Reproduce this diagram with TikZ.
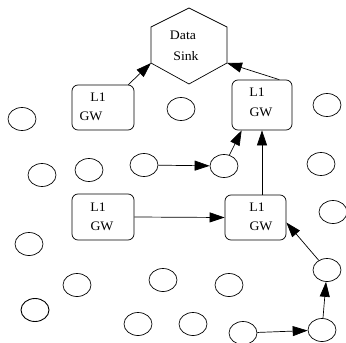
\documentclass[tikz,border=0pt]{standalone}
\usepackage{fontspec}
\setmainfont{Liberation Serif}[FakeStretch=1.06]
\usetikzlibrary{shapes.geometric,arrows.meta}
\tikzset{
  sensor/.style={draw,ellipse,line width=0.7pt,minimum width=28pt,minimum height=23pt,inner sep=0pt},
  gwbox/.style={draw,rectangle,rounded corners=6pt,line width=0.7pt,inner sep=0pt},
  lbl/.style={inner sep=0pt,font=\fontsize{13}{15}\selectfont},
  arr/.style={line width=0.7pt,-{Triangle[length=15pt,width=10pt]}},
}
\begin{document}
\begin{tikzpicture}[x=1pt,y=-1pt]
\useasboundingbox (0,0) rectangle (346,343);
% data sink hexagon
\coordinate (ht) at (189,8);
\coordinate (hur) at (227,27);
\coordinate (hlr) at (227,63);
\coordinate (hb) at (189,84);
\coordinate (hll) at (151,63);
\coordinate (hul) at (151,27);
\draw[line width=0.7pt] (ht) -- (hur) -- (hlr) -- (hb) -- (hll) -- (hul) -- cycle;
\node[lbl] (sinkA) at (183,35) {Data};
\node[lbl] (sinkB) at (186,56) {Sink};
% gateways
\node[gwbox,minimum width=62pt,minimum height=45pt] (tl) at (103,107.5) {};
\node[gwbox,minimum width=60pt,minimum height=50pt] (tr) at (262,105) {};
\node[gwbox,minimum width=62pt,minimum height=46pt] (ll) at (103,217) {};
\node[gwbox,minimum width=61pt,minimum height=45pt] (lr) at (255.5,217.5) {};
\node[lbl] (tlA) at (98,97) {L1};
\node[lbl] (tlB) at (91,116) {GW};
\node[lbl] (trA) at (257,92) {L1};
\node[lbl] (trB) at (261,112) {GW};
\node[lbl] (llA) at (98,207) {L1};
\node[lbl] (llB) at (102,226) {GW};
\node[lbl] (lrA) at (257,207) {L1};
\node[lbl] (lrB) at (261,226) {GW};
% sensors
\node[sensor] (c1) at (22,119) {};
\node[sensor] (c2) at (181,109) {};
\node[sensor] (c3) at (327,105) {};
\node[sensor] (c4) at (42,175) {};
\node[sensor] (c5) at (89,170) {};
\node[sensor] (c6) at (144,165) {};
\node[sensor] (c7) at (224,166) {};
\node[sensor] (c8) at (321,164) {};
\node[sensor] (c9) at (333,212) {};
\node[sensor] (c10) at (29,244) {};
\node[sensor] (c11) at (77,285) {};
\node[sensor] (c12) at (163,280) {};
\node[sensor] (c13) at (229,285) {};
\node[sensor] (c14) at (327,270) {};
\node[sensor,line width=0.9pt] (c15) at (35,310) {};
\node[sensor] (c16) at (138,324) {};
\node[sensor] (c17) at (193,324) {};
\node[sensor] (c18) at (243,333) {};
\node[sensor] (c19) at (322,330) {};
% connectors
\draw[arr] ([xshift=-6pt]tl.north east) -- (hll);
\draw[arr] ([xshift=-13pt]tr.north east) -- (hlr);
\draw[arr] (c6) -- (c7);
\draw[arr] (c7) -- ([xshift=10pt]tr.south west);
\draw[arr] (lr.north -| tr.south) -- (tr.south);
\draw[arr] (ll.east) -- (lr.west);
\draw[arr] (c14) -- ([yshift=-5pt]lr.east);
\draw[arr] (c19) -- (c14);
\draw[arr] (c18) -- (c19);
\end{tikzpicture}
\end{document}
